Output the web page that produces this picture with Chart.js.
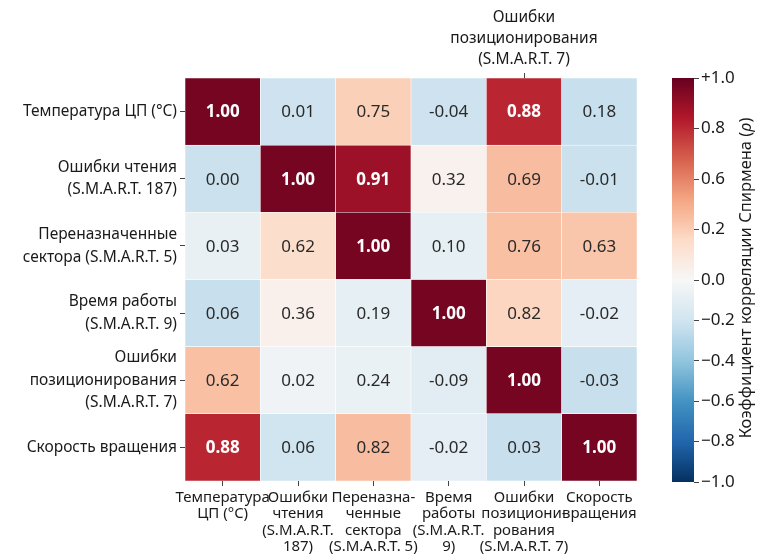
<!DOCTYPE html>
<html>
<head>
<meta charset="utf-8">
<script src="https://cdn.jsdelivr.net/npm/chart.js@4.4.1/dist/chart.umd.min.js"></script>
<style>
  html, body { margin: 0; padding: 0; background: #fff; }
  #wrap { position: relative; width: 760px; height: 557px; }
  #heat { position: absolute; left: 0; top: 0; }
  #bar { position: absolute; left: 640px; top: 0; }
</style>
</head>
<body>
<div id="wrap">
  <canvas id="heat" width="640" height="557"></canvas>
  <canvas id="bar" width="120" height="557"></canvas>
</div>
<script>
// rows, top to bottom
const rowLabels = [
  'Температура ЦП (°C)',
  ['Ошибки чтения', '(S.M.A.R.T. 187)'],
  ['Переназначенные', 'сектора (S.M.A.R.T. 5)'],
  ['Время работы', '(S.M.A.R.T. 9)'],
  ['Ошибки', 'позиционирования', '(S.M.A.R.T. 7)'],
  'Скорость вращения',
];
const colLabels = [
  ['Температура', 'ЦП (°C)'],
  ['Ошибки', 'чтения', '(S.M.A.R.T.', '187)'],
  ['Переназна-', 'ченные', 'сектора', '(S.M.A.R.T. 5)'],
  ['Время', 'работы', '(S.M.A.R.T.', '9)'],
  ['Ошибки', 'позициони-', 'рования', '(S.M.A.R.T. 7)'],
  ['Скорость', 'вращения'],
];
const topLabels = ['', '', '', '', ['Ошибки', 'позиционирования', '(S.M.A.R.T. 7)'], ''];

// printed numbers
const values = [
  [1.00, 0.01, 0.75, -0.04, 0.88, 0.18],
  [0.00, 1.00, 0.91, 0.32, 0.69, -0.01],
  [0.03, 0.62, 1.00, 0.10, 0.76, 0.63],
  [0.06, 0.36, 0.19, 1.00, 0.82, -0.02],
  [0.62, 0.02, 0.24, -0.09, 1.00, -0.03],
  [0.88, 0.06, 0.82, -0.02, 0.03, 1.00],
];
// colour level of each cell as seen in the picture
const shades = [
  [0.96, -0.21, 0.24, -0.21, 0.76, -0.23],
  [-0.22, 0.96, 0.86, 0.04, 0.31, -0.22],
  [-0.08, 0.18, 0.96, -0.09, 0.30, 0.28],
  [-0.23, 0.05, -0.09, 0.96, 0.22, -0.10],
  [0.30, -0.04, -0.07, -0.11, 0.96, -0.23],
  [0.76, -0.20, 0.31, -0.10, -0.23, 0.96],
];

const cbTickValues = [1, 0.75, 0.5, 0.25, 0, -0.2, -0.4, -0.6, -0.8, -1];
const cbTickLabels = ['+1.0', '0.8', '0.6', '0.2', '0.0', '\u22120.2', '\u22120.4', '\u22120.6', '\u22120.8', '\u22121.0'];

// RdBu_r stops from +1 down to -1
const rdbuStops = ['#67001f', '#b2182b', '#d6604d', '#f4a582', '#fddbc7', '#f7f7f7',
                   '#d1e5f0', '#92c5de', '#4393c3', '#2166ac', '#053061'];

function hexToRgb(h) {
  return [1, 3, 5].map(i => parseInt(h.slice(i, i + 2), 16));
}

function rdbu(v) {
  const pos = (1 - Math.max(-1, Math.min(1, v))) / 0.2;
  const i = Math.min(9, Math.floor(pos));
  const t = pos - i;
  const a = hexToRgb(rdbuStops[i]), b = hexToRgb(rdbuStops[i + 1]);
  const c = a.map((x, k) => Math.round(x + (b[k] - x) * t));
  return `rgb(${c[0]},${c[1]},${c[2]})`;
}

const FONT = 'Noto Sans, DejaVu Sans, sans-serif';
const TXT = '#1a1a1a';

// datasets stack bottom-up, so the last row goes first
const datasets = [];
for (let r = rowLabels.length - 1; r >= 0; r--) {
  datasets.push({
    label: r,
    data: colLabels.map(() => 1),
    backgroundColor: shades[r].map(rdbu),
    borderColor: 'rgba(255,255,255,0.85)',
    borderWidth: 0.6,
    borderSkipped: false,
    barPercentage: 1,
    categoryPercentage: 1,
  });
}

const cellText = {
  id: 'cellText',
  afterDatasetsDraw(chart) {
    const ctx = chart.ctx;
    ctx.save();
    ctx.textAlign = 'center';
    ctx.textBaseline = 'middle';
    chart.data.datasets.forEach((ds, di) => {
      const r = ds.label;
      chart.getDatasetMeta(di).data.forEach((el, c) => {
        const dark = shades[r][c] > 0.6;
        ctx.fillStyle = dark ? '#fff' : '#2a2a2a';
        ctx.font = (dark ? 'bold ' : '') + '17px ' + FONT;
        ctx.fillText(values[r][c].toFixed(2), el.x, (el.y + el.base) / 2 + 1);
      });
    });
    ctx.restore();
  }
};

new Chart(document.getElementById('heat'), {
  type: 'bar',
  data: { labels: colLabels, datasets },
  options: {
    responsive: false,
    animation: false,
    layout: { padding: { left: 0, right: 2, top: 0, bottom: 0 } },
    plugins: { legend: { display: false }, tooltip: { enabled: false } },
    scales: {
      x: {
        stacked: true,
        offset: true,
        border: { display: false },
        grid: { drawOnChartArea: false, offset: false, tickLength: 5, color: '#444' },
        ticks: { color: TXT, font: { family: FONT, size: 15, lineHeight: 1.1 }, maxRotation: 0, autoSkip: false, padding: 3 },
        afterFit: s => { s.height = 76; },
      },
      x2: {
        type: 'category',
        labels: topLabels,
        position: 'top',
        offset: true,
        border: { display: false },
        grid: {
          drawOnChartArea: false, offset: false, tickLength: 5,
          color: c => (topLabels[c.index] ? '#444' : 'rgba(0,0,0,0)'),
        },
        ticks: { color: TXT, font: { family: FONT, size: 15.5, lineHeight: 1.35 }, maxRotation: 0, autoSkip: false, padding: 3 },
        afterFit: s => { s.height = 78; },
      },
      y: {
        stacked: true,
        min: 0,
        max: rowLabels.length,
        border: { display: false },
        grid: { drawOnChartArea: false, tickLength: 5, color: '#444' },
        afterBuildTicks: s => { s.ticks = rowLabels.map((_, i) => ({ value: i + 0.5 })); },
        ticks: {
          color: TXT,
          font: { family: FONT, size: 15.5, lineHeight: 1.45 },
          padding: 3,
          callback: v => rowLabels[rowLabels.length - 1 - Math.floor(v)],
        },
        afterFit: s => { s.width = 185; },
      },
    },
  },
  plugins: [cellText],
});

// colour bar
const cbTitle = {
  id: 'cbTitle',
  afterDraw(chart) {
    const ctx = chart.ctx;
    const area = chart.chartArea;
    const parts = [['Коэффициент корреляции Спирмена (', ''], ['\u03c1', 'italic '], [')', '']];
    ctx.save();
    ctx.translate(106, (area.top + area.bottom) / 2 - 2);
    ctx.rotate(-Math.PI / 2);
    ctx.textBaseline = 'middle';
    ctx.fillStyle = TXT;
    let total = 0;
    parts.forEach(p => { ctx.font = p[1] + '16.5px ' + FONT; total += ctx.measureText(p[0]).width; });
    let x = -total / 2;
    parts.forEach(p => {
      ctx.font = p[1] + '16.5px ' + FONT;
      ctx.fillText(p[0], x, 0);
      x += ctx.measureText(p[0]).width;
    });
    ctx.restore();
  }
};

new Chart(document.getElementById('bar'), {
  type: 'bar',
  data: {
    labels: ['ρ'],
    datasets: [{
      data: [[-1, 1]],
      barPercentage: 1,
      categoryPercentage: 1,
      backgroundColor: c => {
        const { chart } = c;
        if (!chart.chartArea) return rdbuStops[5];
        const y = chart.scales.y;
        const g = chart.ctx.createLinearGradient(0, y.getPixelForValue(1), 0, y.getPixelForValue(-1));
        rdbuStops.forEach((col, i) => g.addColorStop(i / 10, col));
        return g;
      },
    }],
  },
  options: {
    responsive: false,
    animation: false,
    layout: { padding: { left: 32, right: 0, top: 78, bottom: 75 } },
    plugins: { legend: { display: false }, tooltip: { enabled: false } },
    scales: {
      x: { display: false },
      y: {
        position: 'right',
        min: -1,
        max: 1,
        border: { display: false },
        grid: { drawOnChartArea: false, tickLength: 5, color: '#444' },
        afterBuildTicks: s => { s.ticks = cbTickValues.map(v => ({ value: v })); },
        ticks: {
          color: TXT,
          font: { family: FONT, size: 17 },
          padding: 2,
          callback: (v, i) => cbTickLabels[i],
        },
        afterFit: s => { s.width = 66; },
      },
    },
  },
  plugins: [cbTitle],
});
</script>
</body>
</html>
